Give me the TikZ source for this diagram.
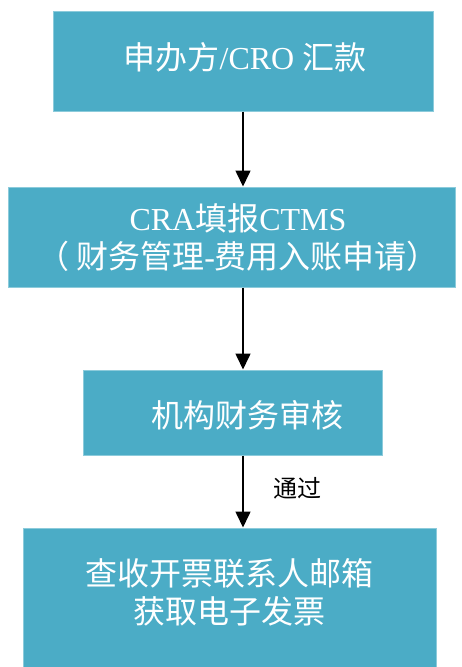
\documentclass[tikz,border=0pt]{standalone}
\usepackage{fontspec}
\setmainfont{Liberation Serif}
\newfontfamily\cjk{Noto Sans CJK SC}
\usetikzlibrary{arrows.meta}
\definecolor{boxblue}{HTML}{4BACC6}
\definecolor{boxedge}{HTML}{8CCBDB}
\tikzset{
  box/.style={rectangle, fill=boxblue, draw=boxedge, line width=1pt, inner sep=0pt},
  boxtext/.style={text=white, align=center, inner sep=0pt, font=\fontsize{32}{38}\selectfont},
  arr/.style={line width=1.6pt, -{Triangle[width=15pt,length=16pt]}},
  lbl/.style={text=black, inner sep=0pt, font=\fontsize{24}{28}\selectfont\cjk}
}
\begin{document}
\begin{tikzpicture}[x=1pt,y=-1pt]
\useasboundingbox (0,0) rectangle (461,667);
\node[box, minimum width=380pt, minimum height=100pt] (b1) at (243,61) {};
\node[box, minimum width=447pt, minimum height=100pt] (b2) at (231.5,237) {};
\node[box, minimum width=299pt, minimum height=85pt] (b3) at (232.5,412.5) {};
\node[box, minimum width=413pt, minimum height=140pt] (b4) at (229.5,598) {};
\node[boxtext] (t1) at (245,57) {{\cjk 申办方}/CRO {\cjk 汇款}};
\node[boxtext] (t2) at (238,238) {CRA{\cjk 填报}CTMS\\{\cjk （ 财务管理}-{\cjk 费用入账申请）}};
\node[boxtext] (t3) at (247.5,415) {\cjk 机构财务审核};
\node[boxtext] (t4) at (229.5,592) {{\cjk 查收开票联系人邮箱}\\{\cjk 获取电子发票}};
\draw[arr] (b1.south) -- (b1.south |- b2.north);
\draw[arr] (b1.south |- b2.south) -- (b1.south |- b3.north);
\draw[arr] (b1.south |- b3.south) -- (b1.south |- b4.north);
\node[lbl] (pass) at (297,488) {通过};
\end{tikzpicture}
\end{document}
